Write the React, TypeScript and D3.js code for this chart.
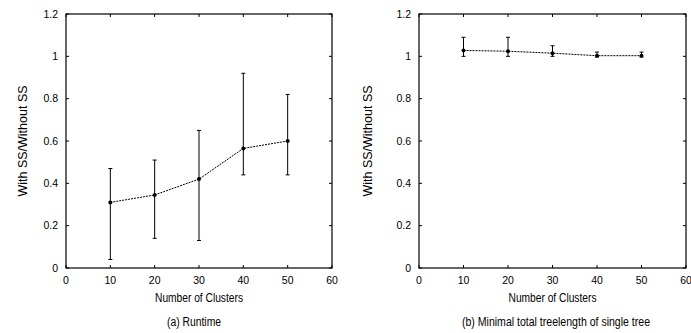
import * as d3 from "d3";

const CLUSTERS = [10, 20, 30, 40, 50];

const RUNTIME_MEAN = [0.31, 0.345, 0.42, 0.565, 0.6];
const RUNTIME_LOW = [0.04, 0.14, 0.13, 0.44, 0.44];
const RUNTIME_HIGH = [0.47, 0.51, 0.65, 0.92, 0.82];

const TREE_MEAN = [1.028, 1.024, 1.015, 1.003, 1.003];
const TREE_LOW = [1.0, 1.0, 1.0, 0.997, 0.997];
const TREE_HIGH = [1.09, 1.09, 1.05, 1.02, 1.02];

const X_TICKS = [0, 10, 20, 30, 40, 50, 60];
const Y_TICKS = [0, 0.2, 0.4, 0.6, 0.8, 1, 1.2];

const FONT = "'Liberation Sans', Arial, Helvetica, sans-serif";

type PanelProps = {
  left: number;
  right: number;
  mean: number[];
  low: number[];
  high: number[];
  caption: string;
  captionX: number;
  captionW: number;
  labelX: number;
};

function Panel({ left, right, mean, low, high, caption, captionX, captionW, labelX }: PanelProps) {
  const top = 14;
  const bottom = 268;
  const x = d3.scaleLinear().domain([0, 60]).range([left, right]);
  const y = d3.scaleLinear().domain([0, 1.2]).range([bottom, top]);
  const line = d3
    .line<number>()
    .x((_, i) => x(CLUSTERS[i]))
    .y((d) => y(d));
  const tick = 3;
  const cap = 2;

  return (
    <g>
      {/* gnuplot-style ticks on all sides, pointing inward */}
      {X_TICKS.map((t) => (
        <g key={"x" + t}>
          <line x1={x(t)} x2={x(t)} y1={bottom} y2={bottom - tick} stroke="#000" />
          <line x1={x(t)} x2={x(t)} y1={top} y2={top + tick} stroke="#000" />
          <text x={x(t)} y={284} textAnchor="middle" fontSize={10.5} fontFamily={FONT}>
            {t}
          </text>
        </g>
      ))}
      {Y_TICKS.map((t) => (
        <g key={"y" + t}>
          <line x1={left} x2={left + tick} y1={y(t)} y2={y(t)} stroke="#000" />
          <line x1={right} x2={right - tick} y1={y(t)} y2={y(t)} stroke="#000" />
          <text
            x={left - 8}
            y={y(t)}
            dy="0.35em"
            textAnchor="end"
            fontSize={10.5}
            fontFamily={FONT}
          >
            {t}
          </text>
        </g>
      ))}
      <rect
        x={left}
        y={top}
        width={right - left}
        height={bottom - top}
        fill="none"
        stroke="#000"
        strokeWidth={1.2}
      />

      {/* error bars */}
      {CLUSTERS.map((c, i) => (
        <g key={"e" + c} stroke="#000" strokeWidth={1}>
          <line x1={x(c)} x2={x(c)} y1={y(low[i])} y2={y(high[i])} />
          <line x1={x(c) - cap} x2={x(c) + cap} y1={y(low[i])} y2={y(low[i])} />
          <line x1={x(c) - cap} x2={x(c) + cap} y1={y(high[i])} y2={y(high[i])} />
        </g>
      ))}
      <path d={line(mean) ?? ""} fill="none" stroke="#000" strokeWidth={1} strokeDasharray="2,1" />
      {CLUSTERS.map((c, i) => (
        <circle key={"p" + c} cx={x(c)} cy={y(mean[i])} r={2} fill="#000" />
      ))}

      <text
        transform={`translate(${labelX},${(top + bottom) / 2}) rotate(-90)`}
        textAnchor="middle"
        fontSize={12.5}
        fontFamily={FONT}
      >
        With SS/Without SS
      </text>
      <text
        x={(left + right) / 2}
        y={302}
        textAnchor="middle"
        fontSize={12}
        fontFamily={FONT}
        textLength={88}
        lengthAdjust="spacingAndGlyphs"
      >
        Number of Clusters
      </text>
      <text
        x={captionX}
        y={326}
        textAnchor="middle"
        fontSize={12}
        fontFamily={FONT}
        textLength={captionW}
        lengthAdjust="spacingAndGlyphs"
      >
        {caption}
      </text>
    </g>
  );
}

export default function App() {
  return (
    <svg
      width={691}
      height={333}
      style={{ position: "absolute", left: 0, top: 0, background: "#fff" }}
    >
      <Panel
        left={66}
        right={332}
        mean={RUNTIME_MEAN}
        low={RUNTIME_LOW}
        high={RUNTIME_HIGH}
        caption="(a) Runtime"
        captionX={194}
        captionW={54}
        labelX={27}
      />
      <Panel
        left={419}
        right={686}
        mean={TREE_MEAN}
        low={TREE_LOW}
        high={TREE_HIGH}
        caption="(b) Minimal total treelength of single tree"
        captionX={556}
        captionW={188}
        labelX={372}
      />
    </svg>
  );
}
